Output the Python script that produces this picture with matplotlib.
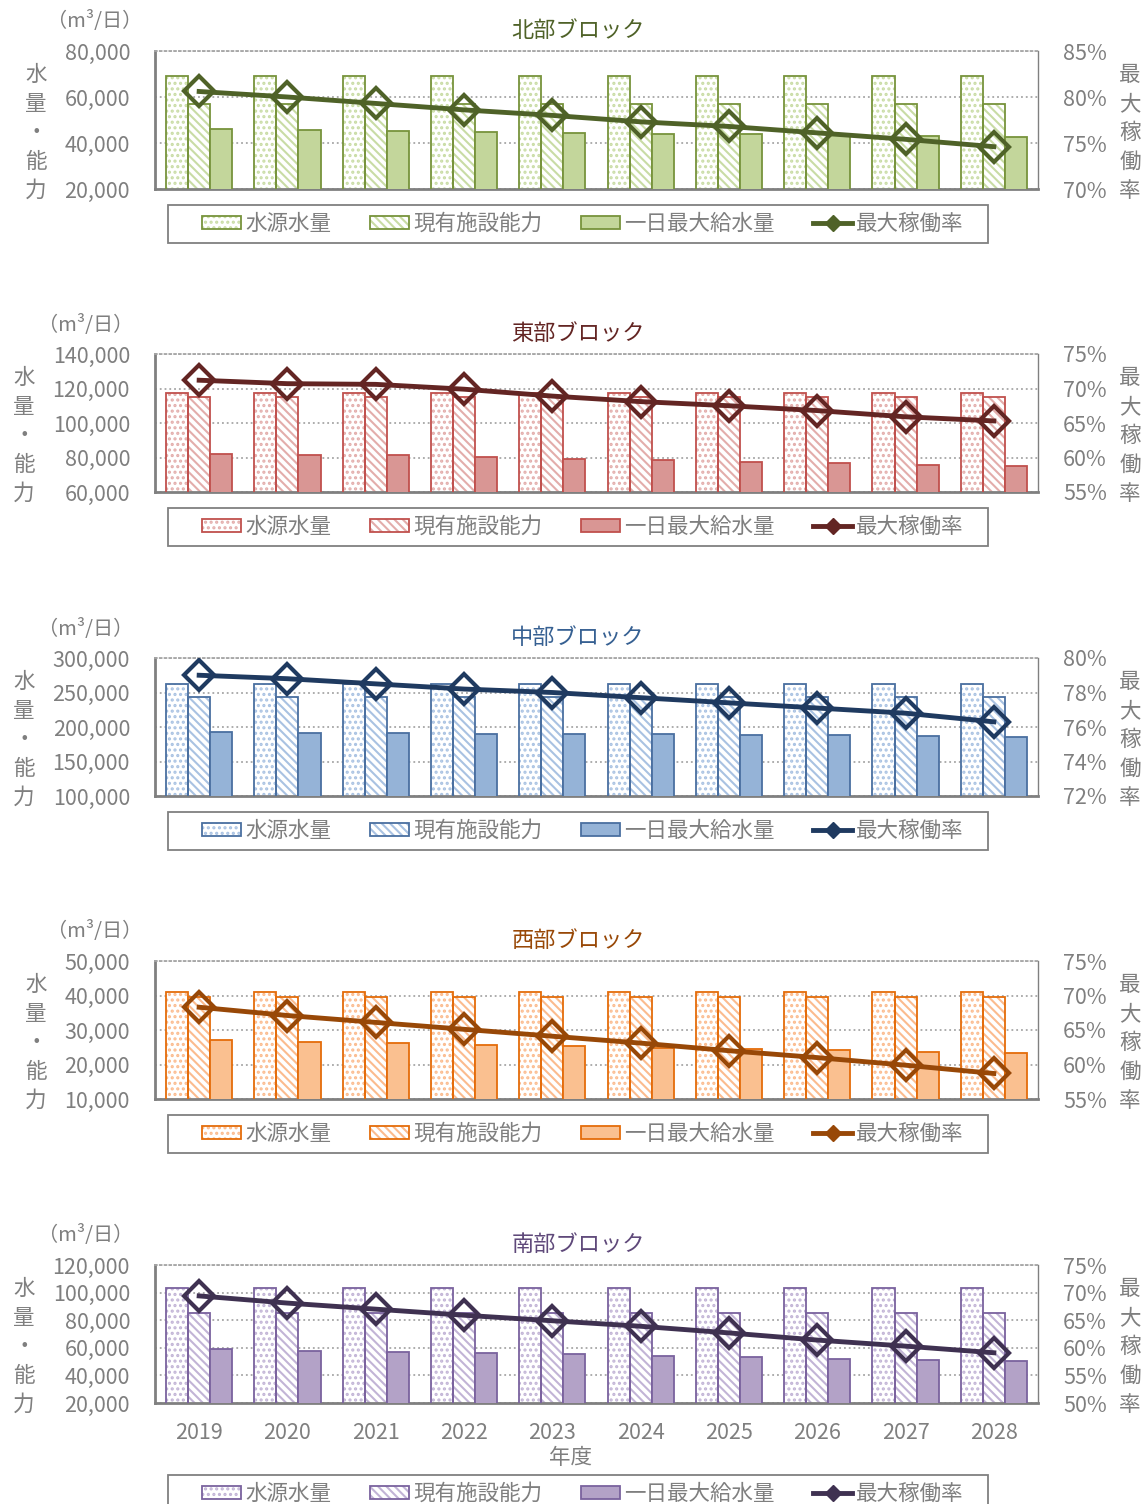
import numpy as np
import matplotlib
matplotlib.use('Agg')
import matplotlib.pyplot as plt
from matplotlib.patches import Patch, Rectangle
from matplotlib.lines import Line2D

plt.rcParams['font.family'] = ['Noto Sans CJK JP', 'DejaVu Sans']
plt.rcParams['hatch.linewidth'] = 1.5

#=====================================================================
#                   data
#=====================================================================
years = ['2019', '2020', '2021', '2022', '2023', '2024', '2025', '2026', '2027', '2028']
series_names = ['水源水量', '現有施設能力', '一日最大給水量', '最大稼働率']

# 北部ブロック
north_src  = [69000, 69000, 69000, 69000, 69000, 69000, 69000, 69000, 69000, 69000]
north_cap  = [57000, 57000, 57000, 57000, 57000, 57000, 57000, 57000, 57000, 57000]
north_sup  = [45900, 45600, 45200, 44800, 44500, 44100, 43800, 43400, 43000, 42500]
north_rate = [80.6, 80.0, 79.3, 78.6, 78.0, 77.3, 76.8, 76.1, 75.4, 74.6]

# 東部ブロック
east_src  = [117500, 117500, 117500, 117500, 117500, 117500, 117500, 117500, 117500, 117500]
east_cap  = [115000, 115000, 115000, 115000, 115000, 115000, 115000, 115000, 115000, 115000]
east_sup  = [81900, 81300, 81200, 80400, 79200, 78300, 77600, 76800, 75800, 75100]
east_rate = [71.2, 70.7, 70.6, 69.9, 68.9, 68.1, 67.5, 66.8, 65.9, 65.3]

# 中部ブロック
mid_src  = [263000, 263000, 263000, 263000, 263000, 263000, 263000, 263000, 263000, 263000]
mid_cap  = [243500, 243500, 243500, 243500, 243500, 243500, 243500, 243500, 243500, 243500]
mid_sup  = [192400, 191900, 191100, 190400, 189900, 189200, 188500, 187700, 187000, 185800]
mid_rate = [79.0, 78.8, 78.5, 78.2, 78.0, 77.7, 77.4, 77.1, 76.8, 76.3]

# 西部ブロック
west_src  = [41000, 41000, 41000, 41000, 41000, 41000, 41000, 41000, 41000, 41000]
west_cap  = [39500, 39500, 39500, 39500, 39500, 39500, 39500, 39500, 39500, 39500]
west_sup  = [27000, 26500, 26100, 25700, 25300, 24900, 24500, 24100, 23700, 23200]
west_rate = [68.3, 67.1, 66.1, 65.1, 64.1, 63.1, 62.0, 61.0, 59.9, 58.7]

# 南部ブロック
south_src  = [103300, 103300, 103300, 103300, 103300, 103300, 103300, 103300, 103300, 103300]
south_cap  = [85000, 85000, 85000, 85000, 85000, 85000, 85000, 85000, 85000, 85000]
south_sup  = [59000, 57900, 57000, 56000, 55200, 54300, 53300, 52200, 51300, 50200]
south_rate = [69.4, 68.1, 67.0, 65.9, 64.9, 63.9, 62.7, 61.4, 60.3, 59.1]

titles = ['北部ブロック', '東部ブロック', '中部ブロック', '西部ブロック', '南部ブロック']
left_ticks = [[20000, 40000, 60000, 80000],
              [60000, 80000, 100000, 120000, 140000],
              [100000, 150000, 200000, 250000, 300000],
              [10000, 20000, 30000, 40000, 50000],
              [20000, 40000, 60000, 80000, 100000, 120000]]
right_ticks = [[70, 75, 80, 85],
               [55, 60, 65, 70, 75],
               [72, 74, 76, 78, 80],
               [55, 60, 65, 70, 75],
               [50, 55, 60, 65, 70, 75]]

#------colors: title/line, bar edge, fill----------------
dark  = ['#4F6228', '#632523', '#1F3A60', '#984807', '#3F3151']
title_col = ['#4F6228', '#632523', '#366092', '#984807', '#5F497A']
edge  = ['#77933C', '#C0504D', '#4A6FA0', '#E46C0A', '#7A629E']
fill  = ['#C3D69B', '#D99694', '#95B3D7', '#FAC090', '#B3A2C7']
light = ['#C9DCA5', '#E3ADAB', '#A9C2E2', '#FBBB8E', '#C2B4D6']

blocks = [(north_src, north_cap, north_sup, north_rate),
          (east_src, east_cap, east_sup, east_rate),
          (mid_src, mid_cap, mid_sup, mid_rate),
          (west_src, west_cap, west_sup, west_rate),
          (south_src, south_cap, south_sup, south_rate)]

#=====================================================================
#                   layout (pixels)
#=====================================================================
W, H = 1143, 1504
fig = plt.figure(figsize=(W/100, H/100), dpi=100)
tops = [51, 354, 658, 961, 1265]
ax_l, ax_w, ax_h = 155, 883, 138
gray = '#808080'
txt = '#7F7F7F'
ylab_x = [36, 24, 24, 36, 24]
unit_x = [95, 86, 86, 95, 86]
dots = '...'
stripes = '\\' * 4

x = np.arange(len(years))
bw = 0.25

for i in range(5):
    src, cap, sup, rate = blocks[i]
    top = tops[i]
    ax = fig.add_axes([ax_l/W, 1-(top+ax_h)/H, ax_w/W, ax_h/H])
    # 水源水量 : dotted
    ax.bar(x-bw, src, bw, color='white', edgecolor=light[i], hatch=dots, lw=0, zorder=2)
    ax.bar(x-bw, src, bw, color='none', edgecolor=edge[i], lw=1.3, zorder=3)
    # 現有施設能力 : stripes
    ax.bar(x, cap, bw, color='white', edgecolor=light[i], hatch=stripes, lw=0, zorder=2)
    ax.bar(x, cap, bw, color='none', edgecolor=edge[i], lw=1.3, zorder=3)
    # 一日最大給水量 : solid
    ax.bar(x+bw, sup, bw, color=fill[i], edgecolor=edge[i], lw=1.3, zorder=3)

    lt = left_ticks[i]
    ax.set_ylim(lt[0], lt[-1])
    ax.set_xlim(-0.5, len(years)-0.5)
    ax.set_yticks(lt)
    ax.set_yticklabels(['{:,}'.format(v) for v in lt])
    ax.grid(axis='y', linestyle=':', color='#A6A6A6', lw=1.3, zorder=0)
    ax.tick_params(axis='y', length=0, pad=18, labelsize=15.5, labelcolor=txt)
    if i == 4:
        ax.set_xticks(x)
        ax.set_xticklabels(years)
        ax.tick_params(axis='x', length=0, pad=14, labelsize=15.5, labelcolor=txt)
        fig.text(571/W, 1-1458/H, '年度', ha='center', va='center',
                 fontsize=15.5, color=txt)
    else:
        ax.set_xticks([])
    ax.spines['left'].set_color(gray)
    ax.spines['left'].set_linewidth(2)
    ax.spines['bottom'].set_color(gray)
    ax.spines['bottom'].set_linewidth(2)
    ax.spines['right'].set_color(gray)
    ax.spines['right'].set_linewidth(1)
    ax.spines['top'].set_color('#A6A6A6')
    ax.spines['top'].set_linestyle(':')
    ax.spines['top'].set_linewidth(1.3)

    ax2 = ax.twinx()
    rt = right_ticks[i]
    ax2.plot(x, rate, color=dark[i], lw=3.5, marker='D', ms=15, mfc='none',
             mec=dark[i], mew=3, zorder=5)
    ax2.set_ylim(rt[0], rt[-1])
    ax2.set_yticks(rt)
    ax2.set_yticklabels(['%d%%' % v for v in rt])
    ax2.tick_params(axis='y', length=0, pad=18, labelsize=15.5, labelcolor=txt)
    for s in ax2.spines.values():
        s.set_visible(False)

    # titles and axis captions
    fig.text(578/W, 1-(top-21)/H, titles[i], ha='center', va='center',
             fontsize=16, color=title_col[i])
    fig.text(unit_x[i]/W, 1-(top-29)/H, '（m³/日）', ha='center', va='center',
             fontsize=14.5, color=txt)
    fig.text(ylab_x[i]/W, 1-(top+82)/H, '\n'.join('水量・能力'), ha='center',
             va='center', fontsize=15.5, color=txt, linespacing=1.4)
    fig.text(1130/W, 1-(top+82)/H, '\n'.join('最大稼働率'), ha='center',
             va='center', fontsize=15.5, color=txt, linespacing=1.4)

    # legend (frame drawn separately for the wide padding)
    h1 = (Patch(facecolor='white', edgecolor=light[i], hatch=dots, lw=0),
          Patch(facecolor='none', edgecolor=edge[i], lw=1.3))
    h2 = (Patch(facecolor='white', edgecolor=light[i], hatch=stripes, lw=0),
          Patch(facecolor='none', edgecolor=edge[i], lw=1.3))
    h3 = Patch(facecolor=fill[i], edgecolor=edge[i], lw=1.3)
    h4 = Line2D([], [], color=dark[i], lw=3.5, marker='D', ms=8, mfc=dark[i],
                mec=dark[i])
    leg_top = top + ax_h + 16 if i < 4 else top + ax_h + 72
    fig.patches.append(Rectangle((168/W, 1-(leg_top+38)/H), 820/W, 38/H,
                                 transform=fig.transFigure, facecolor='white',
                                 edgecolor=gray, lw=1.3, zorder=0))
    leg = fig.legend([h1, h2, h3, h4], series_names, loc='center',
                     bbox_to_anchor=(583/W, 1-(leg_top+19)/H), ncol=4, fontsize=15.5,
                     frameon=False, handlelength=1.8, handleheight=0.6,
                     handletextpad=0.2, columnspacing=1.8, borderpad=0,
                     borderaxespad=0)
    for t in leg.get_texts():
        t.set_color(txt)

fig.savefig('out.png', dpi=100)
